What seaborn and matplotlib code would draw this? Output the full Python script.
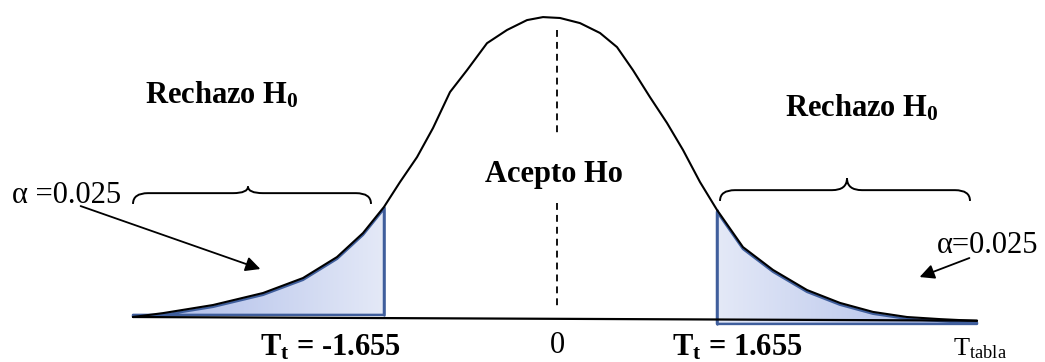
import numpy as np
import pandas as pd
import matplotlib.pyplot as plt
from matplotlib.path import Path
from matplotlib.patches import PathPatch
from matplotlib.colors import LinearSegmentedColormap
import seaborn as sns

# curve points (t units on x, relative height on y)
curve_t = [-4.17, -3.87, -3.37, -2.87, -2.47, -2.13, -1.87, -1.66, -1.50, -1.33,
           -1.17, -1.00, -0.83, -0.63, -0.43, -0.23, -0.07, 0.10, 0.30, 0.50,
           0.67, 0.83, 1.00, 1.17, 1.33, 1.50, 1.67, 1.93, 2.23, 2.57,
           2.90, 3.23, 3.57, 3.90, 4.27]
curve_h = [0.0, 0.013, 0.04, 0.08, 0.13, 0.20, 0.28, 0.367, 0.45, 0.533,
           0.63, 0.75, 0.823, 0.913, 0.957, 0.99, 1.0, 0.997, 0.98, 0.947,
           0.90, 0.823, 0.733, 0.647, 0.557, 0.45, 0.357, 0.233, 0.157, 0.09,
           0.047, 0.017, 0.0, -0.007, -0.013]

cutoffs = [-1.66, 1.67]
tail_bottoms = [0.007, -0.023]
baseline_x = [-4.17, 4.27]
baseline_y = [0.0, -0.012]

region_labels = ["Rechazo H$_\\mathbf{0}$", "Acepto Ho", "Rechazo H$_\\mathbf{0}$"]
alpha_labels = ["\u03b1 =0.025", "\u03b1=0.025"]
crit_labels = ["T$_\\mathbf{t}$ = -1.655", "T$_\\mathbf{t}$ = 1.655"]
center_label = "0"
axis_label = "T$_\\mathrm{tabla}$"

sns.set_theme(style="white")
plt.rcParams["font.family"] = ["Liberation Serif", "DejaVu Serif"]
plt.rcParams["text.color"] = "black"
plt.rcParams["mathtext.fontset"] = "custom"
plt.rcParams["mathtext.rm"] = "Liberation Serif"
plt.rcParams["mathtext.bf"] = "Liberation Serif:bold"
plt.rcParams["mathtext.it"] = "Liberation Serif:italic"

fig = plt.figure(figsize=(10.45, 3.62), dpi=100)
ax = fig.add_axes([0, 0, 1, 1])
ax.set_xlim(-5.50, 4.95)
ax.set_ylim(-0.15, 1.057)
ax.axis("off")

df = pd.DataFrame({"t": curve_t, "h": curve_h})

light_dark = LinearSegmentedColormap.from_list("tail", ["#e4e9f7", "#a7b7e7"])
edge_blue = "#3f5e9c"

# shaded rejection tails with a gradient
tails = [df[df.t <= cutoffs[0]], df[df.t >= cutoffs[1]]]
for cut, seg, bottom in zip(cutoffs, tails, tail_bottoms):
    top = seg.h.clip(lower=bottom) - 0.006
    poly = ax.fill_between(seg.t, bottom, top, facecolor="none",
                           edgecolor=edge_blue, linewidth=1.8, zorder=3)
    lo, hi = seg.t.min(), seg.t.max()
    grad = np.linspace(0, 1, 256)
    if cut < 0:
        grad = grad[::-1]
    img = ax.imshow(grad[np.newaxis, :], cmap=light_dark, aspect="auto",
                    extent=[lo, hi, bottom, seg.h.max()], zorder=2)
    img.set_clip_path(poly.get_paths()[0], transform=ax.transData)
    cut_h = seg.loc[(seg.t - cut).abs().idxmin(), "h"]
    ax.plot([cut, cut], [bottom, cut_h], color=edge_blue, lw=1.8, zorder=3)

sns.lineplot(data=df, x="t", y="h", color="black", lw=1.5, ax=ax, zorder=4,
             solid_joinstyle="round")
ax.plot(baseline_x, baseline_y, color="black", lw=1.6, zorder=4)

# dashed centre line, broken around the label
ax.plot([0.07, 0.07], [0.957, 0.60], color="black", lw=1.3, dashes=(3.8, 2.8))
ax.plot([0.07, 0.07], [0.38, 0.03], color="black", lw=1.3, dashes=(3.8, 2.8))


def brace(x0, x1, xm, y_end, y_flat, y_tip, r=0.15):
    verts = [(x0, y_end), (x0, y_flat), (x0 + r, y_flat),
             (xm - r, y_flat), (xm, y_flat), (xm, y_tip),
             (xm, y_flat), (xm + r, y_flat),
             (x1 - r, y_flat), (x1, y_flat), (x1, y_end)]
    codes = [Path.MOVETO, Path.CURVE3, Path.CURVE3,
             Path.LINETO, Path.CURVE3, Path.CURVE3,
             Path.CURVE3, Path.CURVE3,
             Path.LINETO, Path.CURVE3, Path.CURVE3]
    ax.add_patch(PathPatch(Path(verts, codes), fill=False, lw=1.4, color="black"))


brace(-4.17, -1.79, -3.02, 0.377, 0.413, 0.435)
brace(1.70, 4.20, 2.97, 0.387, 0.423, 0.463)

# text
bold = dict(fontsize=22, fontweight="bold", ha="left", va="baseline")
ax.text(-4.05, 0.713, region_labels[0], **bold)
ax.text(-0.65, 0.45, region_labels[1], **bold)
ax.text(2.35, 0.67, region_labels[2], **bold)
ax.text(-2.90, -0.127, crit_labels[0], **bold)
ax.text(1.22, -0.127, crit_labels[1], **bold)

plain = dict(fontsize=22, ha="left", va="baseline")
ax.text(-5.38, 0.38, alpha_labels[0], **plain)
ax.text(3.87, 0.213, alpha_labels[1], **plain)
ax.text(0.07, -0.12, center_label, fontsize=22, ha="center", va="baseline")
ax.text(4.03, -0.128, axis_label, fontsize=19, ha="left", va="baseline")

# arrows pointing into the tails
arrow = dict(arrowstyle="-|>", color="black", lw=1.3, mutation_scale=22)
ax.annotate("", xy=(-2.87, 0.157), xytext=(-4.72, 0.373), arrowprops=arrow)
ax.annotate("", xy=(3.67, 0.13), xytext=(4.22, 0.20), arrowprops=arrow)

fig.savefig("out.png", dpi=100, facecolor="white")
